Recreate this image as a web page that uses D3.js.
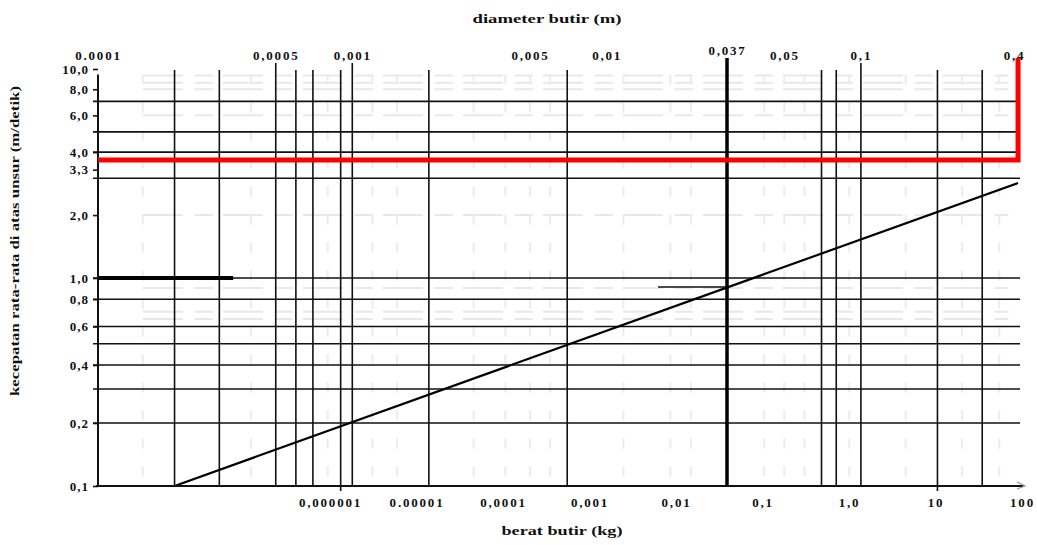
<!DOCTYPE html>
<html>
<head>
<meta charset="utf-8">
<script src="https://cdn.jsdelivr.net/npm/d3@7"></script>
<style>
  body { margin: 0; background: #fff; }
  text { font-family: "Liberation Serif", "DejaVu Serif", serif; font-weight: bold; fill: #111; }
</style>
</head>
<body>
<div id="chart"></div>
<script>
// top axis: diameter butir (m)
const topTicks = [0.0001, 0.0005, 0.001, 0.005, 0.01, 0.037, 0.05, 0.1, 0.4];
const topLabels = ["0.0001", "0,0005", "0,001", "0,005", "0,01", "0,037", "0,05", "0,1", "0,4"];

// bottom axis: berat butir (kg)
const botTicks = [1e-6, 1e-5, 1e-4, 1e-3, 1e-2, 0.1, 1, 10, 100];
const botLabels = ["0,000001", "0.00001", "0,0001", "0,001", "0,01", "0,1", "1,0", "10", "100"];

// left axis: kecepatan (m/detik)
const yTicks = [10, 8, 6, 4, 3.3, 2, 1, 0.8, 0.6, 0.4, 0.2, 0.1];
const yLabels = ["10,0", "8,0", "6,0", "4,0", "3,3", "2,0", "1,0", "0,8", "0,6", "0,4", "0,2", "0,1"];

// grid lines (diameters for vertical, velocities for horizontal)
const vGrid = [0.0002, 0.0003, 0.0005, 0.0006, 0.0007, 0.0009, 0.001, 0.002, 0.007, 0.07, 0.08, 0.1, 0.2, 0.3];
const hGrid = [7, 5, 4, 3, 1, 0.8, 0.6, 0.5, 0.4, 0.3, 0.2];
const faintH = [9.3, 8.6, 8, 6, 2, 0.9, 0.7, 0.65];
const faintV = [0.00015, 0.0004, 0.0008, 0.0012, 0.0015, 0.003, 0.004, 0.005, 0.006, 0.012, 0.02, 0.025, 0.045, 0.05, 0.06, 0.09, 0.15, 0.25, 0.35];

// the velocity line (diameter, velocity)
const lineD = [0.0002, 0.415];
const lineV = [0.1, 2.85];

// marked reading: 0,037 m
const markD = 0.037;
const guideD = [0.0175, 0.037];
const guideV = 0.91;
const thickD = [0.0001, 0.00034];

// red marker
const redD = [0.0001, 0.415, 0.415];
const redV = [3.67, 3.67, 11.3];

const width = 1037, height = 545;
const left = 98, right = 1014;

const svg = d3.select("#chart").append("svg")
  .attr("width", width).attr("height", height);

// scales
const dBase = d3.scaleLog().domain([1e-4, 0.4]).range([left, right]);
const x = d3.scaleLog()
  .domain([1e-4, 0.01, markD, 0.05, 0.4])
  .range([dBase(1e-4), dBase(0.01), 727, dBase(0.05), dBase(0.4)]);
const xBot = d3.scaleLog().domain([1e-6, 100]).range([330, 1022]);
const y = d3.scaleLog().domain([0.1, 0.2, 0.4, 1, 10]).range([486, 423, 365, 278, 69]);

const xEnd = x(0.415);

// faint scan texture
svg.append("g").selectAll("line").data(faintH).join("line")
  .attr("x1", x(0.00015)).attr("x2", x(0.38))
  .attr("y1", d => y(d)).attr("y2", d => y(d))
  .attr("stroke", "#e8e8e8").attr("stroke-width", 2)
  .attr("stroke-dasharray", "40,12,18,10");
svg.append("g").selectAll("line").data(faintV).join("line")
  .attr("x1", d => x(d)).attr("x2", d => x(d))
  .attr("y1", y(9.4)).attr("y2", y(0.11))
  .attr("stroke", "#ececec").attr("stroke-width", 2)
  .attr("stroke-dasharray", "10,18");

// horizontal grid
svg.append("g").selectAll("line").data(hGrid).join("line")
  .attr("x1", left - 5).attr("x2", xEnd + 2)
  .attr("y1", d => y(d)).attr("y2", d => y(d))
  .attr("stroke", "#111").attr("stroke-width", 1.6);

// vertical grid
svg.append("g").selectAll("line").data(vGrid).join("line")
  .attr("x1", d => x(d)).attr("x2", d => x(d))
  .attr("y1", d => topTicks.includes(d) ? 63 : 70)
  .attr("y2", d => (d === 0.0009 || d === 0.2) ? 491 : y(0.1))
  .attr("stroke", "#111").attr("stroke-width", 1.6);

// 0,037 reading lines
svg.append("line")
  .attr("x1", x(markD)).attr("x2", x(markD))
  .attr("y1", 58).attr("y2", y(0.1))
  .attr("stroke", "#000").attr("stroke-width", 3.5);
svg.append("line")
  .attr("x1", x(guideD[0])).attr("x2", x(guideD[1]))
  .attr("y1", y(guideV)).attr("y2", y(guideV))
  .attr("stroke", "#111").attr("stroke-width", 1.6);
svg.append("line")
  .attr("x1", x(thickD[0])).attr("x2", x(thickD[1]))
  .attr("y1", y(1)).attr("y2", y(1))
  .attr("stroke", "#000").attr("stroke-width", 4);

// velocity line
svg.append("path")
  .datum(lineD.map((d, i) => ({ d: d, v: lineV[i] })))
  .attr("fill", "none").attr("stroke", "#000").attr("stroke-width", 2.2)
  .attr("d", d3.line().x(p => x(p.d)).y(p => y(p.v)));

// left axis
const yAxis = d3.axisLeft(y)
  .tickValues(yTicks)
  .tickFormat(v => yLabels[yTicks.indexOf(v)])
  .tickSize(5).tickPadding(4);
const gy = svg.append("g").attr("transform", `translate(${left},0)`).call(yAxis);
gy.select(".domain").remove();
gy.selectAll(".tick line").attr("stroke", "#111").attr("stroke-width", 1.6);
gy.selectAll("text").style("font-size", "13px").style("letter-spacing", "1px");
svg.append("line")
  .attr("x1", left).attr("x2", left)
  .attr("y1", y(9.4)).attr("y2", y(0.1))
  .attr("stroke", "#111").attr("stroke-width", 2);

// bottom axis
const xAxis = d3.axisBottom(xBot)
  .tickValues(botTicks)
  .tickFormat(v => botLabels[botTicks.indexOf(v)])
  .tickSize(0).tickPadding(12);
const gx = svg.append("g").attr("transform", `translate(0,${y(0.1)})`).call(xAxis);
gx.select(".domain").remove();
gx.selectAll("text").style("font-size", "13px").style("letter-spacing", "1.8px");
svg.append("line")
  .attr("x1", left - 2).attr("x2", 1024)
  .attr("y1", y(0.1)).attr("y2", y(0.1))
  .attr("stroke", "#111").attr("stroke-width", 2);
svg.append("path")
  .attr("d", `M1017,${y(0.1) - 4}L1025,${y(0.1)}L1017,${y(0.1) + 3}`)
  .attr("fill", "none").attr("stroke", "#999").attr("stroke-width", 1.2);

// top axis
const topAxis = d3.axisTop(x)
  .tickValues(topTicks)
  .tickFormat(v => topLabels[topTicks.indexOf(v)])
  .tickSize(0).tickPadding(10);
const gt = svg.append("g").attr("transform", "translate(0,70)").call(topAxis);
gt.select(".domain").remove();
gt.selectAll("text").style("font-size", "13px").style("letter-spacing", "1.8px")
  .attr("y", v => v === markD ? -15 : -10);

// red marker
svg.append("path")
  .datum(redD.map((d, i) => ({ d: d, v: redV[i] })))
  .attr("fill", "none").attr("stroke", "#ff0000").attr("stroke-width", 5)
  .attr("stroke-linejoin", "miter")
  .attr("d", d3.line().x(p => x(p.d)).y(p => y(p.v)));

// axis titles
svg.append("text")
  .attr("x", 547).attr("y", 23).attr("text-anchor", "middle")
  .attr("textLength", 149).attr("lengthAdjust", "spacingAndGlyphs")
  .style("font-size", "13px")
  .text("diameter butir (m)");
svg.append("text")
  .attr("x", 562).attr("y", 535).attr("text-anchor", "middle")
  .attr("textLength", 121).attr("lengthAdjust", "spacingAndGlyphs")
  .style("font-size", "13px")
  .text("berat butir (kg)");
svg.append("text")
  .attr("transform", "translate(19,241) rotate(-90)")
  .attr("text-anchor", "middle")
  .attr("textLength", 310).attr("lengthAdjust", "spacingAndGlyphs")
  .style("font-size", "13px")
  .text("kecepatan rata-rata di atas unsur (m/detik)");
</script>
</body>
</html>
